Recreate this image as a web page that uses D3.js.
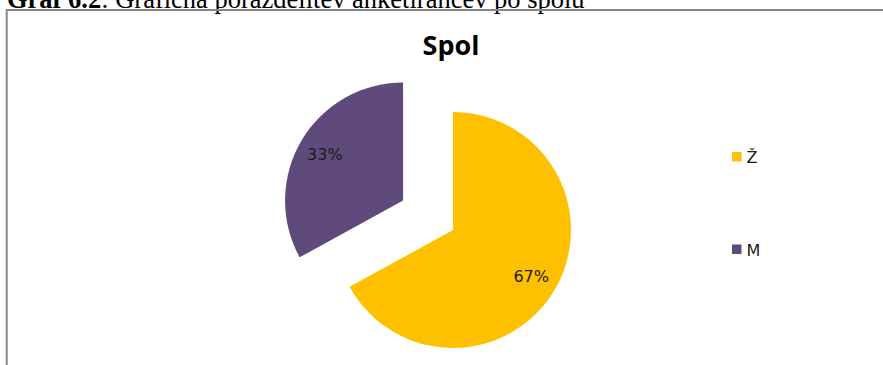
<!DOCTYPE html>
<html>
<head>
<meta charset="utf-8">
<script src="https://cdn.jsdelivr.net/npm/d3@7"></script>
<style>
  html, body { margin: 0; padding: 0; background: #fff; }
  svg { display: block; }
</style>
</head>
<body>
<svg id="chart" width="883" height="365"></svg>
<script>
// Gender split of respondents
const categories = ["Ž", "M"];
const shares = [67, 33];
const colors = ["#FFC000", "#604A7B"];
const exploded = [false, true];

const svg = d3.select("#chart");

// Caption above the chart frame
const caption = svg.append("text")
  .attr("x", 7)
  .attr("y", 7.5)
  .attr("font-family", "'Liberation Serif', 'Times New Roman', serif")
  .attr("font-size", 26.5)
  .attr("fill", "#000");
caption.append("tspan").attr("font-weight", "bold").text("Graf 6.2");
caption.append("tspan").text(": Grafična porazdelitev anketirancev po spolu");

// Chart frame
svg.append("rect")
  .attr("x", 6.7)
  .attr("y", 10)
  .attr("width", 900)
  .attr("height", 400)
  .attr("fill", "none")
  .attr("stroke", "#888")
  .attr("stroke-width", 2);

// Title
svg.append("text")
  .attr("x", 451)
  .attr("y", 55)
  .attr("text-anchor", "middle")
  .attr("font-family", "'Open Sans', sans-serif")
  .attr("font-weight", "bold")
  .attr("font-size", 27)
  .attr("fill", "#000")
  .text("Spol");

// Pie
const cx = 453, cy = 230, r = 118, explodeDist = 58;
const data = categories.map((c, i) => ({ cat: c, value: shares[i], color: colors[i], out: exploded[i] }));
const pie = d3.pie().sort(null).value(d => d.value);
const arc = d3.arc().innerRadius(0).outerRadius(r);
const labelArc = d3.arc().innerRadius(r * 0.77).outerRadius(r * 0.77);
const total = d3.sum(shares);

const g = svg.append("g").attr("transform", `translate(${cx},${cy})`);
const slices = g.selectAll("g.slice")
  .data(pie(data))
  .join("g")
  .attr("class", "slice")
  .attr("transform", d => {
    if (!d.data.out) return null;
    const mid = (d.startAngle + d.endAngle) / 2;
    return `translate(${explodeDist * Math.sin(mid)},${-explodeDist * Math.cos(mid)})`;
  });

slices.append("path")
  .attr("d", arc)
  .attr("fill", d => d.data.color);

slices.append("text")
  .attr("transform", d => `translate(${labelArc.centroid(d)})`)
  .attr("text-anchor", "middle")
  .attr("dy", "0.36em")
  .attr("font-family", "'DejaVu Sans', sans-serif")
  .attr("font-size", 16)
  .attr("fill", "#1a1a1a")
  .text(d => Math.round(d.data.value / total * 100) + "%");

// Legend
const legend = svg.append("g").attr("transform", "translate(732,152)");
const items = legend.selectAll("g")
  .data(data)
  .join("g")
  .attr("transform", (d, i) => `translate(0,${i * 92.5})`);
items.append("rect")
  .attr("width", 9.5)
  .attr("height", 9.5)
  .attr("fill", d => d.color);
items.append("text")
  .attr("x", 14.5)
  .attr("y", 11)
  .attr("font-family", "'DejaVu Sans', sans-serif")
  .attr("font-size", 16)
  .attr("fill", "#1a1a1a")
  .text(d => d.cat);
</script>
</body>
</html>
